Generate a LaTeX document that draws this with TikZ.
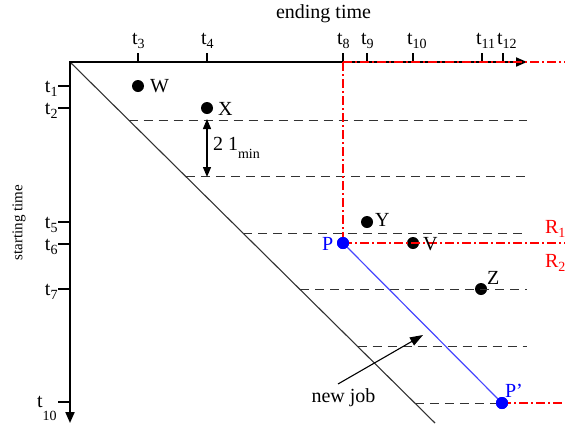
\documentclass[tikz,border=0pt]{standalone}
\usepackage{fontspec}
\setmainfont{Liberation Serif}
\usetikzlibrary{arrows.meta}
\definecolor{myred}{RGB}{255,0,0}
\definecolor{myblue}{RGB}{0,0,255}
\definecolor{lineblue}{RGB}{70,70,255}
\definecolor{dgray}{RGB}{50,50,50}
\newcommand\lowsub[2][4pt]{\raisebox{-#1}{\fontsize{14}{14}\selectfont #2}}
\begin{document}
\begin{tikzpicture}[x=1pt,y=-1pt,
  font=\fontsize{20}{24}\selectfont,
  axisline/.style={line width=2pt, {Triangle[length=11pt,width=9pt]}-{Triangle[length=11pt,width=9pt]}},
  tickmark/.style={line width=2pt},
  gridline/.style={draw=dgray, line width=1pt, dash pattern=on 9pt off 6pt},
  diagline/.style={draw=dgray, line width=1.1pt},
  redline/.style={color=myred, line width=1.2pt, dash pattern=on 9pt off 3pt on 2pt off 3pt},
  blueline/.style={color=lineblue, line width=1.2pt},
  dblarrow/.style={line width=1.3pt, {Triangle[length=10pt,width=8pt]}-{Triangle[length=10pt,width=8pt]}},
  jobarrow/.style={line width=1.1pt, -{Triangle[length=13pt,width=9pt]}},
  dot/.style={circle, fill=black, inner sep=0pt, minimum size=12pt},
  bluedot/.style={dot, fill=myblue},
  txt/.style={inner sep=0pt, outer sep=0pt},
]
\useasboundingbox (0,0) rectangle (565,426);

% key coordinates
\coordinate (O) at (70,62);
\coordinate (xend) at (527,62);
\coordinate (yend) at (70,423);
\coordinate (dend) at (435,423);
\coordinate (t8top) at (343,62);
\coordinate (rtop) at (565,62);
\coordinate (rmid) at (565,243);
\coordinate (rbot) at (565,403);

% dots
\node[dot] (W) at (138,86) {};
\node[dot] (X) at (207,108) {};
\node[dot] (Y) at (367,222) {};
\node[dot] (V) at (413,243) {};
\node[dot] (Z) at (481,289) {};
\node[bluedot] (P) at (343,243) {};
\node[bluedot] (Pp) at (502,403) {};

% dashed horizontal lines
\foreach \i/\xs/\y in {1/128.6/120, 2/185.9/176.6, 3/243.1/233.2, 4/300.3/289.8, 5/357.6/346.4}{
  \coordinate (g\i s) at (\xs,\y);
  \coordinate (g\i e) at (527,\y);
  \draw[gridline] (g\i s) -- (g\i e);
}
\coordinate (g6s) at (414.8,403);
\draw[gridline] (g6s) -- (Pp);

% diagonal
\draw[diagline] (O) -- (dend);

% axes
\draw[axisline] (yend) -- (O) -- (xend);

% ticks and tick labels
\foreach \n/\x in {3/138, 4/207, 8/343, 9/367, 10/413, 11/482, 12/503}{
  \draw[tickmark] (\x,53) -- (\x,62);
  \node[txt, anchor=base west] (tx\n) at (\x-6,44) {t\lowsub{\n}};
}
\foreach \n/\y in {1/86, 2/108, 5/222, 6/244, 7/289}{
  \draw[tickmark] (58,\y) -- (70,\y);
  \node[txt, anchor=base east] (ty\n) at (57.5,\y+6) {t\lowsub{\n}};
}
\draw[tickmark] (58,402) -- (70,402);
\node[txt, anchor=base west] (ty10) at (37,407) {t\lowsub[13pt]{10}};

% axis titles
\node[txt, anchor=base] (xtitle) at (323.5,18) {ending time};
\node[txt, rotate=90, font=\fontsize{15}{17}\selectfont] (ytitle) at (19,222.5) {starting time};

% red dash-dot lines
\draw[redline] (t8top) -- (rtop);
\draw[redline] (t8top) -- (P.center);
\draw[redline] (P.center) -- (rmid);
\draw[redline] (Pp.center) -- (rbot);

% blue line
\draw[blueline] (P.center) -- (Pp.center);

% redraw dots on top
\node[bluedot] at (P) {};
\node[bluedot] at (Pp) {};

% double arrow 2 l_min
\coordinate (da1) at (207,119);
\coordinate (da2) at (207,177);
\draw[dblarrow] (da1) -- (da2);
\node[txt, anchor=base west] (lmin) at (213,150) {2 1\lowsub[8pt]{min}};

% new job arrow
\coordinate (ja1) at (338,384);
\coordinate (ja2) at (423,335);
\draw[jobarrow] (ja1) -- (ja2);
\node[txt, anchor=base] (newjob) at (343.5,402) {new job};

% point labels
\node[txt, anchor=base west] (Wl) at (150,92) {W};
\node[txt, anchor=base west] (Xl) at (218,115) {X};
\node[txt, anchor=base west] (Yl) at (375,226) {Y};
\node[txt, anchor=base west] (Vl) at (423,250) {V};
\node[txt, anchor=base west] (Zl) at (487,284) {Z};
\node[txt, anchor=base west, text=myblue] (Pl) at (322,250) {P};
\node[txt, anchor=base west, text=myblue] (Ppl) at (505,397) {P'};
\node[txt, anchor=base west, text=myred] (R1) at (545,233) {R\lowsub{1}};
\node[txt, anchor=base west, text=myred] (R2) at (545,267) {R\lowsub{2}};
\end{tikzpicture}
\end{document}
